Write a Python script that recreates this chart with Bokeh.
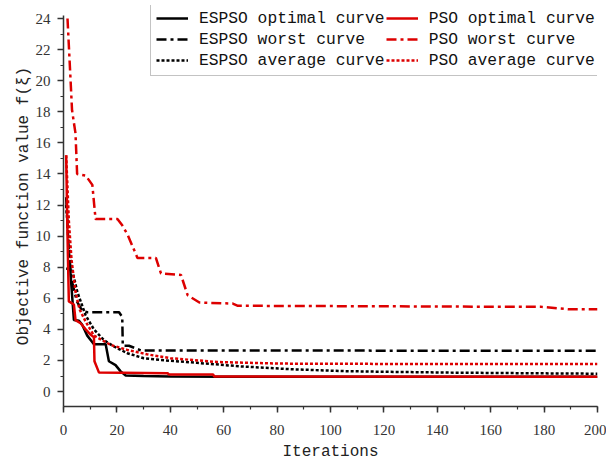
from bokeh.plotting import figure
from bokeh.models import Legend, LegendItem, SingleIntervalTicker, Range1d
from bokeh.embed import file_html
from bokeh.resources import INLINE

# ---- data ----
it_espso_opt = [1, 2.5, 3.9, 5.8, 7.0, 8.9, 11.4, 15.8, 17.0, 19.5, 21.4, 23.3, 30, 40, 60, 200]
espso_opt = [7.9, 7.9, 4.6, 4.55, 4.3, 3.6, 3.05, 3.05, 1.95, 1.7, 1.3, 1.03, 1.0, 0.97, 0.95, 0.95]

it_pso_opt = [1, 1.5, 2.0, 3.9, 4.5, 6.4, 8.3, 10.2, 11.4, 11.6, 13.3, 39, 39.5, 56, 56.5, 200]
pso_opt = [15.2, 10.0, 5.8, 5.6, 4.6, 4.4, 4.0, 3.65, 3.5, 1.95, 1.22, 1.18, 1.1, 1.1, 0.97, 0.95]

it_espso_worst = [1, 2, 3, 5, 7, 8.9, 20.8, 22, 22.2, 24.5, 29, 200]
espso_worst = [12.5, 9.0, 7.2, 5.8, 5.2, 5.1, 5.1, 4.8, 2.95, 2.95, 2.65, 2.62]

it_pso_worst = [1.5, 2.6, 3.2, 4.5, 5.1, 8.3, 10.8, 12, 20.2, 22, 24, 27.7, 34.6, 36.5, 44,
                46.5, 50.9, 63.4, 65.3, 179, 189, 200]
pso_worst = [24.0, 20.2, 18.1, 16.6, 14.0, 13.9, 13.3, 11.1, 11.1, 10.7, 10.1, 8.6, 8.6, 7.6, 7.5,
             6.2, 5.73, 5.66, 5.52, 5.45, 5.3, 5.3]

it_espso_avg = [1, 2, 3, 5.2, 8.3, 11.4, 15.2, 18.9, 23.9, 30.1, 40, 50, 66.5, 85, 104, 118, 145, 174, 200]
espso_avg = [12.0, 9.5, 8.0, 6.4, 4.9, 4.0, 3.3, 2.9, 2.47, 2.14, 1.98, 1.85, 1.62, 1.44, 1.32, 1.28, 1.22, 1.18, 1.15]

it_pso_avg = [1, 2, 3, 4.5, 6, 8.3, 11.4, 17.7, 23.9, 31.2, 40, 57.7, 82, 120, 200]
pso_avg = [15.2, 11.0, 8.5, 6.4, 5.3, 4.5, 3.6, 3.0, 2.68, 2.4, 2.15, 1.9, 1.8, 1.78, 1.78]

labels = ["ESPSO optimal curve", "ESPSO worst curve", "ESPSO average curve",
          "PSO optimal curve", "PSO worst curve", "PSO average curve"]

RED = "#dd0000"
BLACK = "#000000"
MONO = "Liberation Mono"
SERIF = "Liberation Serif"

p = figure(width=606, height=463, output_backend="svg", toolbar_location=None,
           x_range=Range1d(0, 200), y_range=Range1d(-0.96, 24.84),
           min_border_left=63, min_border_right=9, min_border_top=5, min_border_bottom=56)
p.outline_line_color = None
p.grid.visible = False
p.background_fill_color = "white"
p.border_fill_color = "white"

# axes
p.xaxis.ticker = SingleIntervalTicker(interval=20, num_minor_ticks=2)
p.yaxis.ticker = SingleIntervalTicker(interval=2, num_minor_ticks=2)
p.yaxis.bounds = (-0.96, 24.2)
for ax in (p.xaxis, p.yaxis):
    ax.axis_line_width = 1.5
    ax.axis_line_color = "#333333"
    ax.major_tick_line_color = "#333333"
    ax.minor_tick_line_color = "#333333"
    ax.major_tick_line_width = 1.5
    ax.minor_tick_line_width = 1.2
    ax.major_tick_in = 0
    ax.major_tick_out = 6
    ax.minor_tick_in = 0
    ax.minor_tick_out = 3
    ax.major_label_text_font = SERIF
    ax.major_label_text_font_size = "15px"
    ax.major_label_text_color = "#333333"
    ax.axis_label_text_font = MONO
    ax.axis_label_text_font_size = "16px"
    ax.axis_label_text_font_style = "normal"
    ax.axis_label_text_color = "#222222"

p.xaxis.axis_label = "Iterations"
p.yaxis.axis_label = "Objective function value f(\u03be)"
p.xaxis.major_label_standoff = 12
p.xaxis.axis_label_standoff = 5
p.yaxis.major_label_standoff = 7
p.yaxis.axis_label_standoff = 0

W = 2.5
r1 = p.line(it_espso_opt, espso_opt, line_color=BLACK, line_width=W)
r2 = p.line(it_espso_worst, espso_worst, line_color=BLACK, line_width=W, line_dash="10 4 3 4")
r3 = p.line(it_espso_avg, espso_avg, line_color=BLACK, line_width=W, line_dash="3 2")
r4 = p.line(it_pso_opt, pso_opt, line_color=RED, line_width=W)
r5 = p.line(it_pso_worst, pso_worst, line_color=RED, line_width=W, line_dash="10 4 3 4")
r6 = p.line(it_pso_avg, pso_avg, line_color=RED, line_width=W, line_dash="3 2")

items = [
    LegendItem(label=labels[0], renderers=[r1]),
    LegendItem(label=labels[1], renderers=[r2]),
    LegendItem(label=labels[2], renderers=[r3]),
    LegendItem(label=labels[3], renderers=[r4]),
    LegendItem(label=labels[4], renderers=[r5]),
    LegendItem(label=labels[5], renderers=[r6]),
]
legend = Legend(items=items, location=(87, 330), ncols=2,
                label_text_font=MONO, label_text_font_size="16.3px", label_text_color="#111111",
                glyph_width=32, glyph_height=20, label_height=20, label_standoff=11,
                spacing=1, padding=5, margin=0,
                border_line_color="#888888", border_line_width=1,
                background_fill_color="white", background_fill_alpha=1.0)
p.add_layout(legend, "center")

open("out.html", "w").write(file_html(p, INLINE))
